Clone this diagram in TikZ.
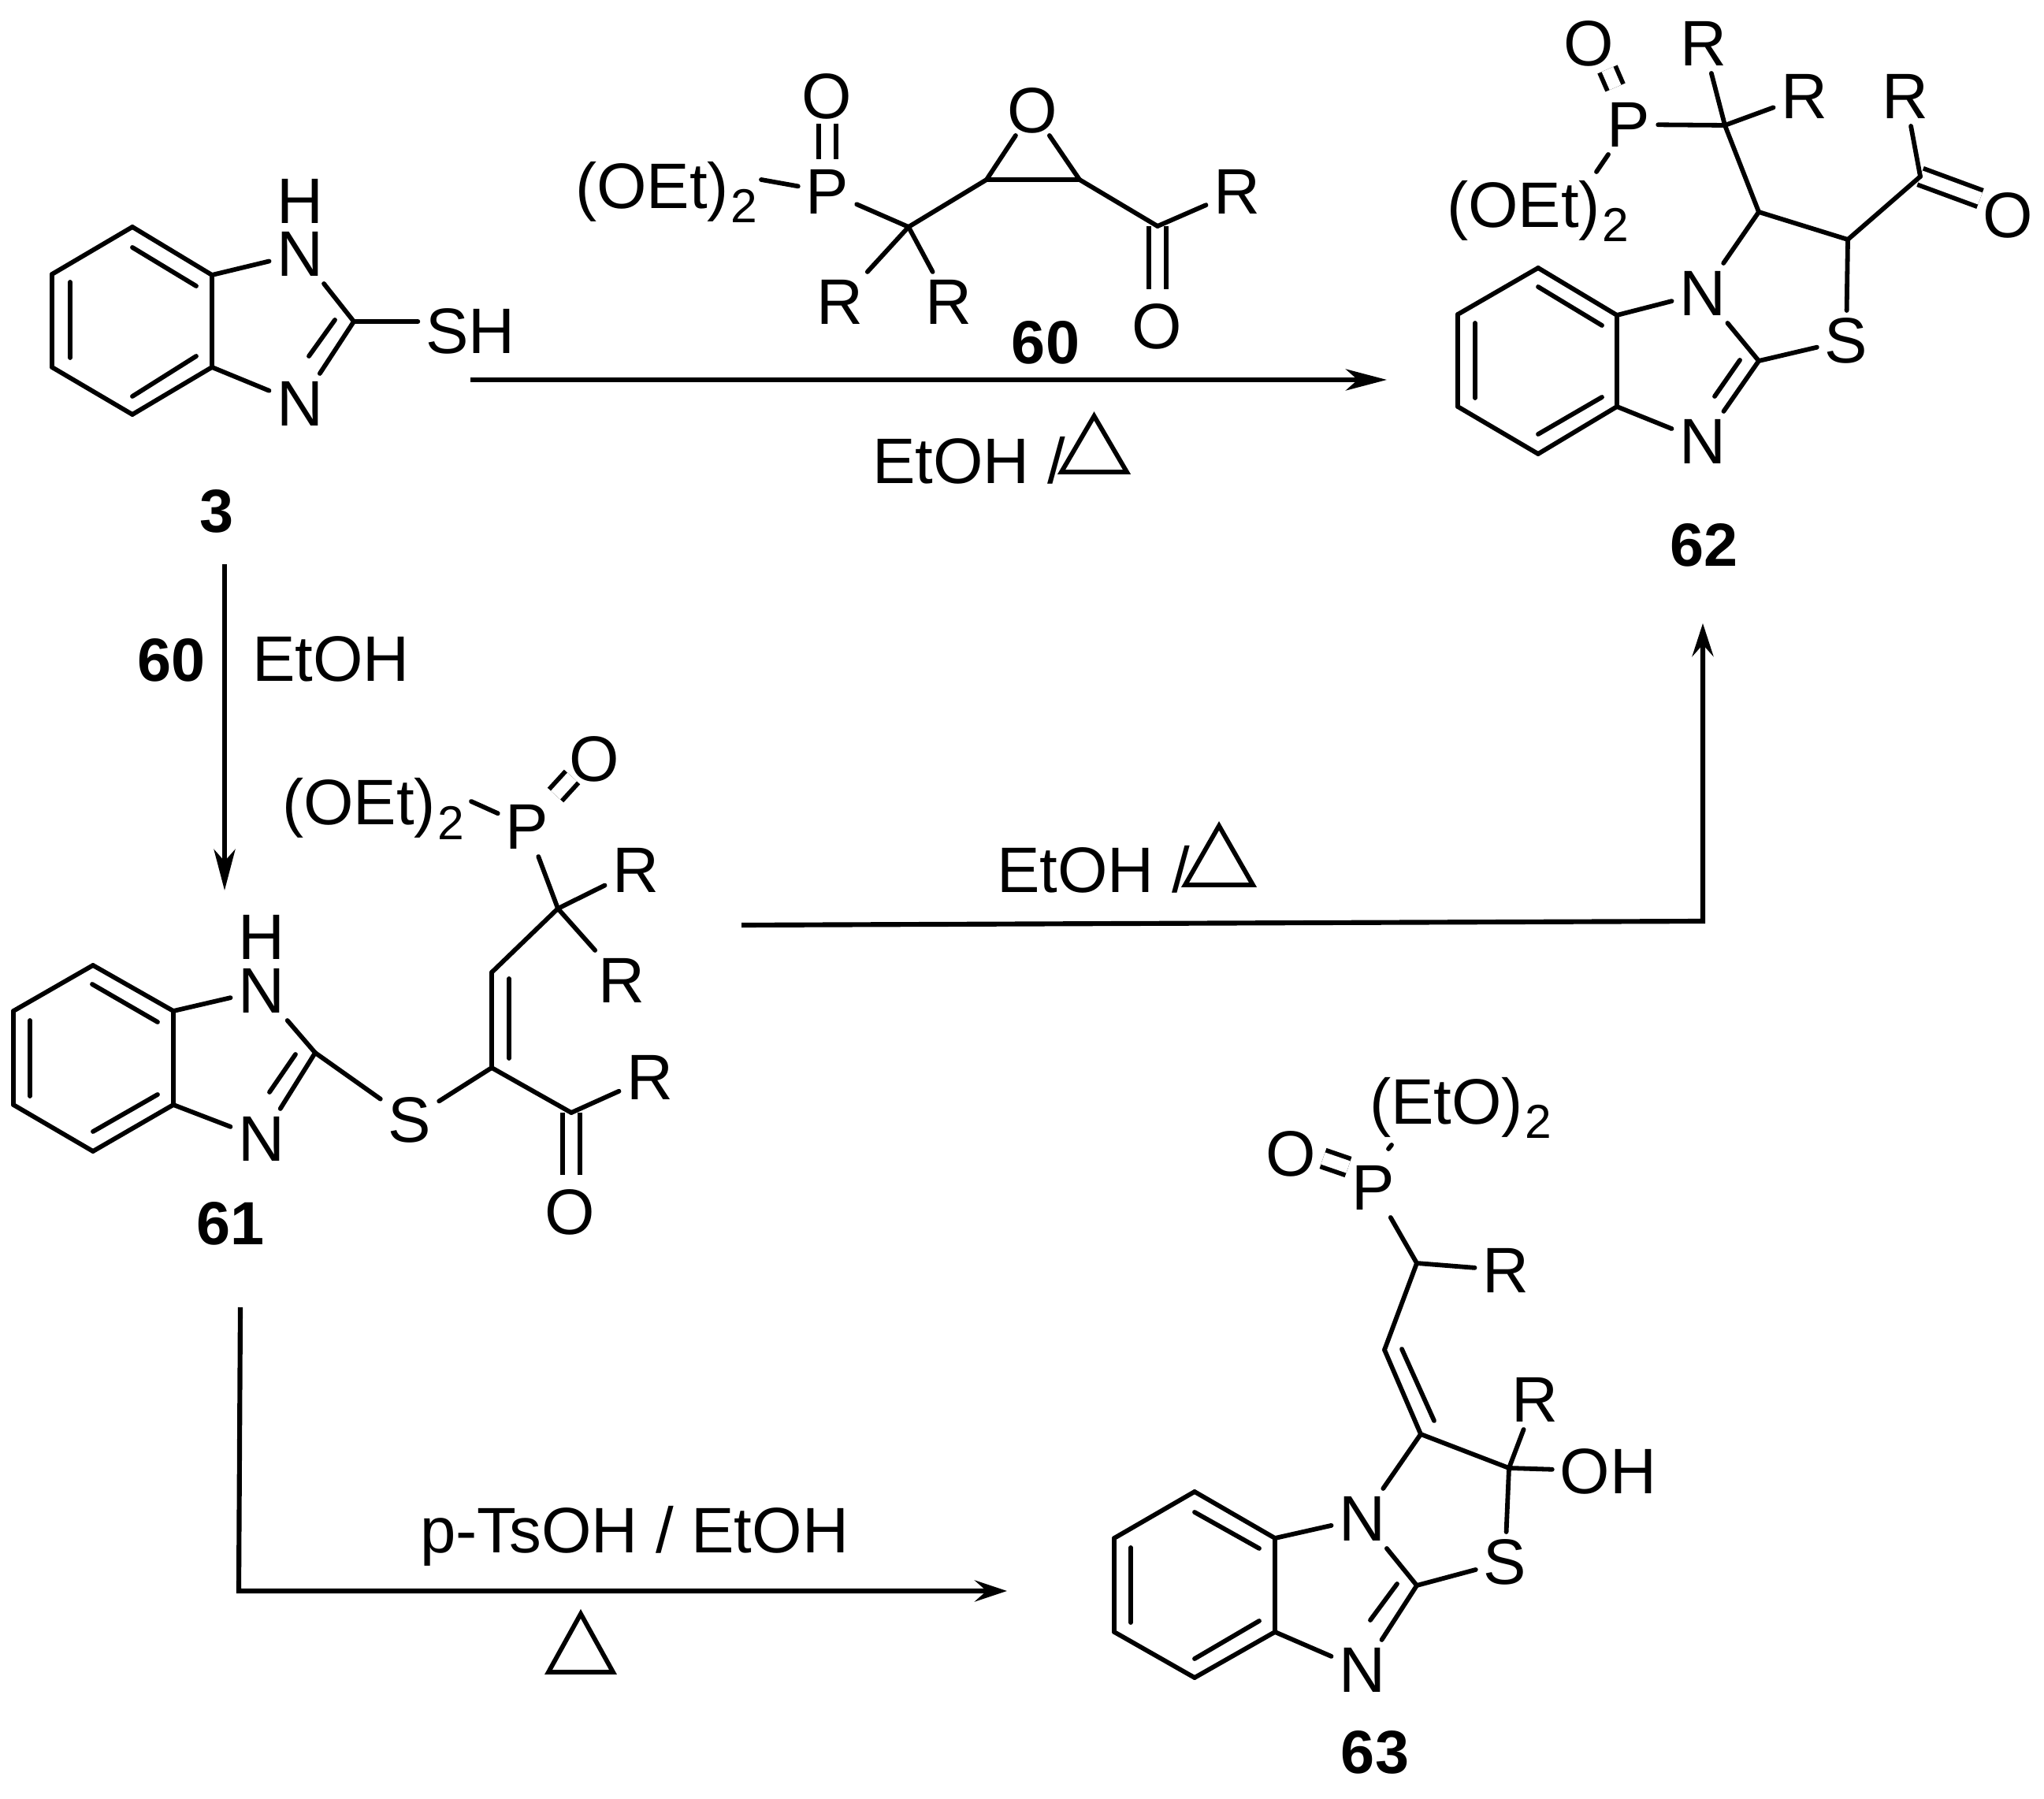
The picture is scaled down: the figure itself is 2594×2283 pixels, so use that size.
\documentclass[tikz,border=0pt]{standalone}
\usepackage{fontspec}
\setmainfont{Liberation Sans}
\usetikzlibrary{arrows.meta}
\newcommand{\atomfont}{\fontsize{23.2}{27}\selectfont}
\newcommand{\labelfont}{\fontsize{22}{26}\selectfont\bfseries}
\newcommand{\subtwo}{\kern.03cm\raisebox{-.18cm}{\fontsize{17.2}{19}\selectfont 2}}
\tikzset{
  atom/.style={inner sep=0,outer sep=1mm,text height=5.6mm,text depth=0pt,font=\atomfont},
  group/.style={inner sep=0,outer sep=0,anchor=base west,font=\atomfont},
  cmpd/.style={atom,font=\labelfont},
  cond/.style={atom,anchor=west,outer sep=0},
  bond/.style={line width=1.65pt,line cap=round,line join=round},
  dbl/.style={line width=1.65pt,double,double distance=.16cm},
  rxn/.style={line width=1.75pt,line join=miter,-{Stealth[length=#1,width=2.7mm,inset=1.5mm]}},
  rxn/.default=5.2mm
}
\begin{document}
\begin{tikzpicture}[x=0.01cm,y=-0.01cm]
  \useasboundingbox (0,0) rectangle (2594,2283);
  % 3
  \foreach \n/\x/\y in {b31/168/288,b32/66/348,b33/66/466,b34/168/526,b35/269/466,b36/269/349,c32/449/408,
      i3a/168/314,i3b/249/363,i3c/89/358,i3d/89/454,i3e/168/503,i3f/249/452,i3g/425/406,i3h/392/452}
    \coordinate (\n) at (\x,\y);
  \foreach \n/\x/\y/\t in {n31/381/322/N,h31/381/255/H,n33/381/512/N,sh3/597/420/SH}
    \node[atom] (\n) at (\x,\y) {\t};
  \foreach \a/\b in {b31/b32,b32/b33,b33/b34,b34/b35,b35/b36,b36/b31,b36/n31,b35/n33,n31/c32,c32/n33,
      i3a/i3b,i3c/i3d,i3e/i3f,i3g/i3h}
    \draw[bond] (\a) -- (\b);
  \draw[bond] (c32) -- (c32 -| sh3.west);
  \node[cmpd] (l3) at (275,647) {3};
  % 60
  \foreach \n/\x/\y in {c60a/1153/288,c60b/1252/228,c60c/1370/228,c60d/1469/287,e60/966/228,
      d60a/1050/202,d60b/1050/157,d60c/1469/367}
    \coordinate (\n) at (\x,\y);
  \foreach \n/\x/\y/\t in {o60a/1049/122/O,p60/1050/243/P,r60a/1066/383/R,r60b/1204/383/R,
      r60c/1570/243/R,o60c/1468/414/O}
    \node[atom] (\n) at (\x,\y) {\t};
  \node[atom,outer sep=.4mm] (o60b) at (1310,140) {O};
  \node[group] (oet60) at (730,265) {(OEt)\subtwo};
  \draw[dbl] (d60a) -- (d60b);
  \draw[dbl] (c60d) -- (d60c);
  \foreach \a/\b in {e60/p60,p60/c60a,c60a/c60b,c60b/c60c,c60b/o60b,c60c/o60b,c60c/c60d,c60d/r60c,
      c60a/r60a,c60a/r60b}
    \draw[bond] (\a) -- (\b);
  \node[cmpd] (l60) at (1327,433) {60};
  % 62
  \foreach \n/\x/\y in {b621/1952/340,b622/1850/399,b623/1850/516,b624/1952/576,b625/2052/516,b626/2052/400,
      c622/2232/458,c623/2232/269,c624/2345/304,c625/2437/224,c626/2189/159,e62/2026/218,
      d62a/2050/111,d62b/2040/88,d62c/2513/252,
      i62a/1952/364,i62b/2033/413,i62c/1872/410,i62d/1872/505,i62e/1952/551,i62f/2033/504,i62g/2208/457,i62h/2176/503}
    \coordinate (\n) at (\x,\y);
  \foreach \n/\x/\y/\t in {n621/2161/372/N,n623/2161/560/N,s62/2343/432/S,r62c/2418/122/R,o62c/2548/273/O,
      p62/2067/158/P,o62a/2016/55/O,r62a/2162/55/R,r62b/2290/122/R}
    \node[atom] (\n) at (\x,\y) {\t};
  \node[group] (oet62) at (1836,289) {(OEt)\subtwo};
  \draw[dbl] (d62a) -- (d62b);
  \draw[dbl] (c625) -- (d62c);
  \foreach \a/\b in {b621/b622,b622/b623,b623/b624,b624/b625,b625/b626,b626/b621,b626/n621,b625/n623,
      n621/c622,c622/n623,c622/s62,c623/n621,c623/c624,c624/s62,c624/c625,c625/r62c,c626/c623,c626/p62,
      c626/r62a,c626/r62b,p62/e62,i62a/i62b,i62c/i62d,i62e/i62f,i62g/i62h}
    \draw[bond] (\a) -- (\b);
  \node[cmpd] (l62) at (2162,690) {62};
  % 61
  \foreach \n/\x/\y in {b611/118/1225,b612/17/1283,b613/17/1402,b614/118/1461,b615/220/1402,b616/220/1283,
      c612/400/1336,c613/624/1355,c614/624/1234,c615/708/1153,c616/725/1412,e61/598/1017,
      d61a/705/1009,d61b/726/986,d61c/725/1491,
      i61a/117/1249,i61b/200/1297,i61c/38/1295,i61d/38/1391,i61e/118/1436,i61f/200/1389,i61g/375/1338,i61h/342/1386,
      i61i/646/1242,i61j/646/1343}
    \coordinate (\n) at (\x,\y);
  \foreach \n/\x/\y/\t in {n611/332/1257/N,h61/332/1189/H,n613/332/1445/N,s61/520/1421/S,p61/669/1049/P,
      o61a/754/963/O,r61a/807/1104/R,r61b/789/1244/R,r61c/825/1367/R,o61c/723/1538/O}
    \node[atom] (\n) at (\x,\y) {\t};
  \node[group] (oet61) at (358,1047) {(OEt)\subtwo};
  \draw[dbl] (d61a) -- (d61b);
  \draw[dbl] (c616) -- (d61c);
  \foreach \a/\b in {b611/b612,b612/b613,b613/b614,b614/b615,b615/b616,b616/b611,b616/n611,b615/n613,
      n611/c612,c612/n613,c612/s61,s61/c613,c613/c614,c614/c615,c615/p61,c615/r61a,c615/r61b,c613/c616,
      c616/r61c,e61/p61,i61a/i61b,i61c/i61d,i61e/i61f,i61g/i61h,i61i/i61j}
    \draw[bond] (\a) -- (\b);
  \node[cmpd] (l61) at (293,1551) {61};
  % 63
  \foreach \n/\x/\y in {b631/1516/1893,b632/1414/1952,b633/1414/2071,b634/1516/2129,b635/1618/2071,b636/1618/1952,
      c632/1798/2012,c633/1803/1820,c634/1915/1863,c635/1757/1713,c636/1798/1603,e63a/1762/1458,e63b/1766/1453,
      d63a/1711/1481,d63b/1679/1470,
      i63a/1516/1919,i63b/1598/1965,i63c/1435/1964,i63d/1435/2059,i63e/1516/2105,i63f/1598/2057,i63g/1773/2010,
      i63h/1739/2056,i63i/1779/1712,i63j/1820/1803}
    \coordinate (\n) at (\x,\y);
  \foreach \n/\x/\y/\t in {n631/1729/1927/N,n633/1729/2119/N,s63/1910/1982/S,oh63/2041/1867/OH,r63a/1948/1776/R,
      r63b/1911/1612/R,p63/1743/1507/P,o63/1638/1464/O}
    \node[atom] (\n) at (\x,\y) {\t};
  \node[group] (eto63) at (1738,1426) {(EtO)\subtwo};
  \draw[dbl] (d63a) -- (d63b);
  \foreach \a/\b in {b631/b632,b632/b633,b633/b634,b634/b635,b635/b636,b636/b631,b636/n631,b635/n633,
      n631/c632,c632/n633,c632/s63,c633/n631,c633/c634,c634/s63,c634/oh63,c634/r63a,c633/c635,c635/c636,
      c636/p63,c636/r63b,e63a/e63b,i63a/i63b,i63c/i63d,i63e/i63f,i63g/i63h,i63i/i63j}
    \draw[bond] (\a) -- (\b);
  \node[cmpd] (l63) at (1745,2222) {63};
  % arrows
  \foreach \n/\x/\y in {a1s/597/482,a1e/1760/482,a2s/285/716,a2e/285/1130,a3s/941/1174,a3m/2161/1169,a3e/2161/791,
      a4s/305/1659,a4m/303/2019,a4e/1278/2019}
    \coordinate (\n) at (\x,\y);
  \draw[rxn] (a1s) -- (a1e);
  \draw[rxn] (a2s) -- (a2e);
  \draw[rxn=4.2mm] (a3s) -- (a3m) -- (a3e);
  \draw[rxn=4.1mm] (a4s) -- (a4m) -- (a4e);
  \node[cond] (t1) at (1107,585) {EtOH /};
  \node[cmpd] (t2) at (218,836) {60};
  \node[atom] (t3) at (420,836) {EtOH};
  \node[cond] (t4) at (1265,1104) {EtOH /};
  \node[atom] (t5) at (805,1942) {p-TsOH / EtOH};
  % heat
  \foreach \x/\y/\w/\h in {1347/599/41.5/71,1504/1123/43/75,696/2122/41/74}
    \draw[bond,line join=miter] (\x,\y) -- ++(\w,-\h) -- ++(\w,\h) -- cycle;
\end{tikzpicture}
\end{document}
